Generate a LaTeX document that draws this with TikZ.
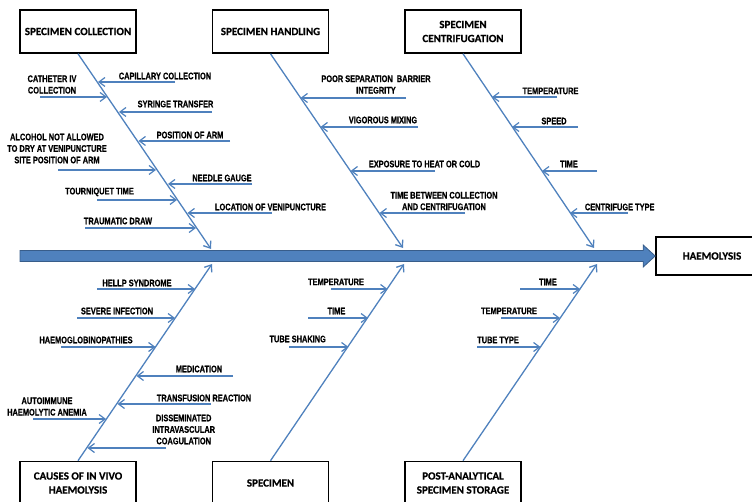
\documentclass[tikz,border=0pt]{standalone}
\usepackage{fontspec}
\usetikzlibrary{arrows.meta,calc}
\newfontfamily\labfam{Liberation Sans}[FakeStretch=0.78, FakeBold=0.6]
\newfontfamily\boxfam{Carlito}[FakeBold=0.5]
\definecolor{bonec}{RGB}{79,129,189}
\definecolor{spinefill}{RGB}{79,129,189}
\definecolor{spinedraw}{RGB}{56,93,138}
\tikzset{
  box/.style={draw=black, line width=1.6pt, minimum width=116pt, minimum height=43pt,
    align=center, inner sep=2pt, font=\boxfam\bfseries\fontsize{11}{14}\selectfont},
  lab/.style={align=center, inner sep=0pt, font=\labfam\bfseries\fontsize{9.5}{11.5}\selectfont},
  bone/.style={draw=bonec, line width=1.3pt, -{Straight Barb[length=6pt,width=9pt]}},
  twig/.style={draw=bonec, line width=1.2pt, -{Straight Barb[length=6pt,width=9pt]}},
}
\begin{document}
\begin{tikzpicture}[x=1pt,y=-1pt]
\clip (0,0) rectangle (752,502);
% boxes
\node[box] (b1) at (78,31.5) {SPECIMEN COLLECTION};
\node[box] (b2) at (270.5,31.5) {SPECIMEN HANDLING};
\node[box] (b3) at (463,31.5) {SPECIMEN\\CENTRIFUGATION};
\node[box] (b4) at (78,483) {CAUSES OF IN VIVO\\HAEMOLYSIS};
\node[box] (b5) at (270.5,483) {SPECIMEN};
\node[box] (b6) at (463,483) {POST-ANALYTICAL\\SPECIMEN STORAGE};
\node[box, minimum width=112pt, minimum height=38pt] (haem) at (712,256) {HAEMOLYSIS};
% spine
\coordinate (sp) at (20,256);
\filldraw[fill=spinefill, draw=spinedraw, line width=0.8pt]
  ($(sp)+(0,-5.5)$) -- ($(haem.west)+(-12,-5.5)$) -- ($(haem.west)+(-12,-11)$) -- (haem.west)
  -- ($(haem.west)+(-12,11)$) -- ($(haem.west)+(-12,5.5)$) -- ($(sp)+(0,5.5)$) -- cycle;
% bone ends
\coordinate (e1) at (211,249);
\coordinate (e2) at (403,248);
\coordinate (e3) at (594,248);
\coordinate (e4) at (212,264);
\coordinate (e5) at (404,264);
\coordinate (e6) at (597,264);
\draw[bone] (b1.south) -- (e1);
\draw[bone] (b2.south) -- (e2);
\draw[bone] (b3.south) -- (e3);
\draw[bone] (b4.north) -- (e4);
\draw[bone] (b5.north) -- (e5);
\draw[bone] (b6.north) -- (e6);
% ---- bone 1: specimen collection
\node[lab] (l11) at (165,76) {CAPILLARY COLLECTION};
\coordinate (s11) at (175,82); \coordinate (t11) at (98,82);
\node[lab] (l12) at (52,84.5) {CATHETER IV\\COLLECTION};
\coordinate (s12) at (40,97); \coordinate (t12) at (107,97);
\node[lab] (l13) at (175.5,104) {SYRINGE TRANSFER};
\coordinate (s13) at (212,112); \coordinate (t13) at (119,112);
\node[lab] (l14) at (190,135) {POSITION OF ARM};
\coordinate (s14) at (230,141); \coordinate (t14) at (138.5,141);
\node[lab] (l15) at (57,148.5) {ALCOHOL NOT ALLOWED\\TO DRY AT VENIPUNCTURE\\SITE POSITION OF ARM};
\coordinate (s15) at (58,170); \coordinate (t15) at (156,170);
\node[lab] (l16) at (222,178) {NEEDLE GAUGE};
\coordinate (s16) at (252,184); \coordinate (t16) at (168,184);
\node[lab] (l17) at (99.5,192) {TOURNIQUET TIME};
\coordinate (s17) at (97,200); \coordinate (t17) at (177,200);
\node[lab] (l18) at (270.5,207) {LOCATION OF VENIPUNCTURE};
\coordinate (s18) at (272,213); \coordinate (t18) at (187.5,213);
\node[lab] (l19) at (118,221) {TRAUMATIC DRAW};
\coordinate (s19) at (85,228); \coordinate (t19) at (196,228);
% ---- bone 2: specimen handling
\node[lab] (l21) at (376,84.5) {POOR SEPARATION\ \ BARRIER\\INTEGRITY};
\coordinate (s21) at (406,98); \coordinate (t21) at (300.5,98);
\node[lab] (l22) at (383,120) {VIGOROUS MIXING};
\coordinate (s22) at (418,127); \coordinate (t22) at (320.5,127);
\node[lab] (l23) at (424.5,164) {EXPOSURE TO HEAT OR COLD};
\coordinate (s23) at (435,171); \coordinate (t23) at (350.5,171);
\node[lab] (l24) at (444,201) {TIME BETWEEN COLLECTION\\AND CENTRIFUGATION};
\coordinate (s24) at (465,213); \coordinate (t24) at (379.5,213);
% ---- bone 3: centrifugation
\node[lab] (l31) at (550.5,91) {TEMPERATURE};
\coordinate (s31) at (557,97); \coordinate (t31) at (492,97);
\node[lab] (l32) at (554,121) {SPEED};
\coordinate (s32) at (578,127); \coordinate (t32) at (512,127);
\node[lab] (l33) at (569,164) {TIME};
\coordinate (s33) at (597,171); \coordinate (t33) at (542,171);
\node[lab] (l34) at (619.7,207) {CENTRIFUGE TYPE};
\coordinate (s34) at (628,213); \coordinate (t34) at (570,213);
% ---- bone 4: in vivo
\node[lab] (l41) at (137,283) {HELLP SYNDROME};
\coordinate (s41) at (97,289); \coordinate (t41) at (195,289);
\node[lab] (l42) at (117,311) {SEVERE INFECTION};
\coordinate (s42) at (77,318); \coordinate (t42) at (175,318);
\node[lab] (l43) at (86,340) {HAEMOGLOBINOPATHIES};
\coordinate (s43) at (61,347); \coordinate (t43) at (155.5,347);
\node[lab] (l44) at (199,369) {MEDICATION};
\coordinate (s44) at (233,376); \coordinate (t44) at (136.5,376);
\node[lab] (l45) at (204,398) {TRANSFUSION REACTION};
\coordinate (s45) at (211,404); \coordinate (t45) at (117.5,404);
\node[lab] (l46) at (47,406.5) {AUTOIMMUNE\\HAEMOLYTIC ANEMIA};
\coordinate (s46) at (33,419); \coordinate (t46) at (106,419);
\node[lab] (l47) at (183.7,429.5) {DISSEMINATED\\INTRAVASCULAR\\COAGULATION};
\coordinate (s47) at (166,448); \coordinate (t47) at (87.5,448);
% ---- bone 5: specimen
\node[lab] (l51) at (336,282) {TEMPERATURE};
\coordinate (s51) at (331,289); \coordinate (t51) at (387.5,289);
\node[lab] (l52) at (336.5,311) {TIME};
\coordinate (s52) at (308,318); \coordinate (t52) at (368,318);
\node[lab] (l53) at (297.7,339) {TUBE SHAKING};
\coordinate (s53) at (289,347); \coordinate (t53) at (348.5,347);
% ---- bone 6: storage
\node[lab] (l61) at (548,282) {TIME};
\coordinate (s61) at (520,289); \coordinate (t61) at (580,289);
\node[lab] (l62) at (509,311) {TEMPERATURE};
\coordinate (s62) at (501,318); \coordinate (t62) at (560,318);
\node[lab] (l63) at (498,340) {TUBE TYPE};
\coordinate (s63) at (477,347); \coordinate (t63) at (540.5,347);
% twigs
\foreach \i in {11,12,13,14,15,16,17,18,19,21,22,23,24,31,32,33,34,41,42,43,44,45,46,47,51,52,53,61,62,63}
  \draw[twig] (s\i) -- (t\i);
\end{tikzpicture}
\end{document}
